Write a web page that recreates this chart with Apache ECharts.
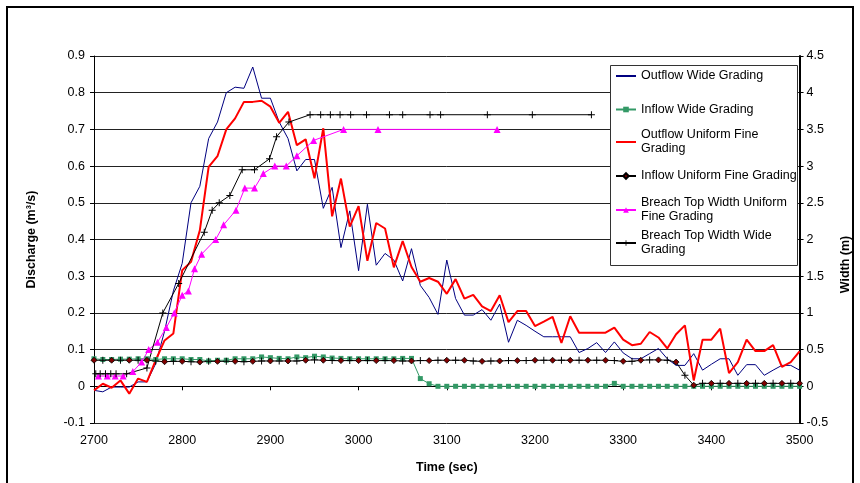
<!DOCTYPE html>
<html>
<head>
<meta charset="utf-8">
<script src="https://cdn.jsdelivr.net/npm/echarts@6/dist/echarts.min.js"></script>
<style>
  html, body { margin: 0; padding: 0; background: #fff; }
  #chart { width: 860px; height: 483px; }
</style>
</head>
<body>
<div id="chart"></div>
<script>
// time steps (sec) of the 10 s records
var times = [2700, 2710, 2720, 2730, 2740, 2750, 2760, 2770, 2780, 2790,
    2800, 2810, 2820, 2830, 2840, 2850, 2860, 2870, 2880, 2890,
    2900, 2910, 2920, 2930, 2940, 2950, 2960, 2970, 2980, 2990,
    3000, 3010, 3020, 3030, 3040, 3050, 3060, 3070, 3080, 3090,
    3100, 3110, 3120, 3130, 3140, 3150, 3160, 3170, 3180, 3190,
    3200, 3210, 3220, 3230, 3240, 3250, 3260, 3270, 3280, 3290,
    3300, 3310, 3320, 3330, 3340, 3350, 3360, 3370, 3380, 3390,
    3400, 3410, 3420, 3430, 3440, 3450, 3460, 3470, 3480, 3490, 3500];

// discharge (m3/s)
var outflowWide = [-0.011, -0.015, -0.002, -0.002, -0.002, 0.012, 0.012, 0.062, 0.15, 0.26,
    0.335, 0.50, 0.545, 0.675, 0.72, 0.80, 0.815, 0.812, 0.87, 0.785,
    0.785, 0.72, 0.675, 0.587, 0.618, 0.618, 0.485, 0.542, 0.378, 0.478,
    0.315, 0.496, 0.33, 0.362, 0.344, 0.287, 0.375, 0.275, 0.242, 0.196,
    0.344, 0.239, 0.194, 0.194, 0.209, 0.18, 0.224, 0.12, 0.18, 0.166,
    0.15, 0.135, 0.135, 0.135, 0.135, 0.092, 0.103, 0.119, 0.092, 0.121,
    0.091, 0.075, 0.075, 0.089, 0.103, 0.075, 0.057, 0.057, 0.089, 0.044,
    0.06, 0.075, 0.075, 0.03, 0.059, 0.059, 0.03, 0.044, 0.057, 0.057, 0.044];

var inflowWide = [0.075, 0.073, 0.073, 0.074, 0.074, 0.075, 0.075, 0.073, 0.075, 0.075,
    0.075, 0.073, 0.073, 0.069, 0.071, 0.071, 0.075, 0.075, 0.075, 0.080,
    0.078, 0.076, 0.075, 0.080, 0.078, 0.082, 0.080, 0.077, 0.076, 0.075,
    0.075, 0.075, 0.075, 0.075, 0.075, 0.076, 0.076, 0.021, 0.007, 0,
    0, 0, 0, 0, 0, 0, 0, 0, 0, 0,
    0, 0, 0, 0, 0, 0, 0, 0, 0, 0.008,
    0, 0, 0, 0, 0, 0, 0, 0, 0, 0,
    0, 0, 0, 0, 0, 0, 0, 0, 0, 0, 0];

var outflowUniform = [-0.011, 0.007, -0.004, 0.016, -0.02, 0.021, 0.012, 0.071, 0.125, 0.144,
    0.316, 0.339, 0.425, 0.598, 0.627, 0.70, 0.73, 0.775, 0.775, 0.778,
    0.762, 0.718, 0.748, 0.657, 0.673, 0.567, 0.703, 0.463, 0.566, 0.435,
    0.491, 0.342, 0.445, 0.43, 0.324, 0.396, 0.325, 0.285, 0.295, 0.285,
    0.252, 0.292, 0.239, 0.249, 0.218, 0.205, 0.248, 0.175, 0.205, 0.205,
    0.164, 0.176, 0.189, 0.118, 0.191, 0.146, 0.146, 0.146, 0.146, 0.16,
    0.127, 0.112, 0.116, 0.148, 0.133, 0.103, 0.142, 0.166, 0.016, 0.127,
    0.127, 0.157, 0.036, 0.066, 0.127, 0.096, 0.096, 0.112, 0.053, 0.066, 0.095];

var inflowUniform = [0.071, 0.071, 0.071, 0.071, 0.071, 0.071, 0.071, 0.069, 0.067, 0.068,
    0.068, 0.067, 0.066, 0.068, 0.068, 0.068, 0.068, 0.067, 0.068, 0.069,
    0.069, 0.069, 0.069, 0.069, 0.071, 0.072, 0.071, 0.070, 0.070, 0.070,
    0.070, 0.070, 0.070, 0.070, 0.070, 0.069, 0.069, 0.070, 0.070, 0.071,
    0.071, 0.071, 0.071, 0.069, 0.068, 0.069, 0.069, 0.070, 0.070, 0.070,
    0.071, 0.071, 0.071, 0.071, 0.071, 0.071, 0.071, 0.071, 0.071, 0.070,
    0.068, 0.068, 0.071, 0.072, 0.072, 0.071, 0.066, 0.030, 0.003, 0.008,
    0.008, 0.008, 0.008, 0.008, 0.008, 0.008, 0.008, 0.008, 0.008, 0.008, 0.008];

// breach top width (m), irregular times
var uniformWidthTimes = [2705, 2715, 2724, 2733, 2744, 2754, 2762, 2772, 2782, 2791,
    2800, 2807, 2814, 2822, 2838, 2847, 2861, 2871, 2882, 2892,
    2905, 2918, 2930, 2949, 2983, 3022, 3157];
var uniformWidth = [0.14, 0.14, 0.14, 0.14, 0.2, 0.33, 0.5, 0.6, 0.8, 1.0,
    1.24, 1.3, 1.6, 1.8, 2.0, 2.2, 2.4, 2.7, 2.7, 2.9,
    3.0, 3.0, 3.14, 3.35, 3.5, 3.5, 3.5];

var wideWidthTimes = [2702, 2707, 2713, 2719, 2725, 2737, 2760, 2778, 2796, 2825,
    2834, 2842, 2854, 2868, 2882, 2899, 2907, 2921, 2945, 2957,
    2968, 2979, 2991, 3009, 3035, 3050, 3081, 3093, 3146, 3197, 3264];
var wideWidth = [0.17, 0.17, 0.17, 0.17, 0.17, 0.17, 0.25, 1.0, 1.4, 2.1,
    2.4, 2.5, 2.6, 2.95, 2.95, 3.1, 3.4, 3.6, 3.7, 3.7,
    3.7, 3.7, 3.7, 3.7, 3.7, 3.7, 3.7, 3.7, 3.7, 3.7, 3.7];

var seriesNames = ['Outflow Wide Grading', 'Inflow Wide Grading', 'Outflow Uniform Fine\nGrading',
    'Inflow Uniform Fine Grading', 'Breach Top Width Uniform\nFine Grading', 'Breach Top Width Wide\nGrading'];

(function() {
    var FONT = 'Liberation Sans, Arial, sans-serif';
    var PLUS = 'path://M4.3,0H5.7V4.3H10V5.7H5.7V10H4.3V5.7H0V4.3H4.3Z';

    function pairs(xs, ys) {
        return ys.map(function(v, i) { return [xs[i], v]; });
    }

    // diamonds and plain ticks alternate along the uniform inflow line
    var inflowUniformData = inflowUniform.map(function(v, i) {
        if (i % 2) {
            return {value: [times[i], v], symbol: PLUS, symbolSize: 7, itemStyle: {color: '#000', borderWidth: 0}};
        }
        return [times[i], v];
    });

    // legend icons sit on the first text line
    var legendCenters = [76, 109.5, 142, 176, 210, 243];
    var lineOnly = [true, false, true, false, false, false];
    var legends = seriesNames.map(function(name, i) {
        var twoLines = name.indexOf('\n') > -1;
        var lg = {
            data: [name],
            left: 615,
            top: legendCenters[i] - (twoLines ? 21 : 7),
            itemWidth: 20,
            itemHeight: 7,
            itemGap: 0,
            padding: 0,
            selectedMode: false,
            textStyle: {
                fontFamily: FONT, fontSize: 12.5, color: '#000', lineHeight: 14,
                padding: twoLines ? [14, 0, 0, 0] : 0
            }
        };
        if (lineOnly[i]) {
            lg.itemStyle = {opacity: 0};
        }
        return lg;
    });

    var chart = echarts.init(document.getElementById('chart'), null, {renderer: 'canvas'});

    var option = {
        animation: false,
        backgroundColor: '#fff',
        textStyle: {fontFamily: FONT},
        grid: {left: 94, right: 59, top: 56, bottom: 60, containLabel: false},
        legend: legends,
        graphic: [
            {type: 'rect', z: 0, silent: true,
                shape: {x: 7, y: 7, width: 846, height: 480},
                style: {fill: null, stroke: '#000', lineWidth: 2}},
            {type: 'rect', z: 3, zlevel: 0, silent: true,
                shape: {x: 610.5, y: 65.5, width: 187, height: 200},
                style: {fill: '#fff', stroke: '#333', lineWidth: 1}}
        ],
        xAxis: {
            type: 'value',
            min: 2700, max: 3500, interval: 100,
            name: 'Time (sec)',
            nameLocation: 'middle',
            nameGap: 38,
            nameTextStyle: {fontFamily: FONT, fontSize: 12.5, fontWeight: 'bold', color: '#000'},
            axisLine: {lineStyle: {color: '#000', width: 1}},
            axisTick: {length: 4, lineStyle: {color: '#000'}},
            axisLabel: {fontFamily: FONT, fontSize: 12.5, color: '#000', margin: 11,
                formatter: function(v) { return String(v); }},
            splitLine: {show: false}
        },
        yAxis: [
            {
                type: 'value',
                min: -0.1, max: 0.9, interval: 0.1,
                name: 'Discharge (m³/s)',
                nameLocation: 'middle',
                nameRotate: 90,
                nameGap: 56,
                nameTextStyle: {fontFamily: FONT, fontSize: 12.5, fontWeight: 'bold', color: '#000'},
                axisLine: {show: true, lineStyle: {color: '#000', width: 1}},
                axisTick: {show: true, length: 4, lineStyle: {color: '#000'}},
                axisLabel: {fontFamily: FONT, fontSize: 12.5, color: '#000', margin: 9},
                splitLine: {show: true, lineStyle: {color: '#222', width: 1}}
            },
            {
                type: 'value',
                position: 'right',
                min: -0.5, max: 4.5, interval: 0.5,
                name: 'Width (m)',
                nameLocation: 'middle',
                nameRotate: 90,
                nameGap: 34,
                nameTextStyle: {fontFamily: FONT, fontSize: 12.5, fontWeight: 'bold', color: '#000',
                    padding: [0, 50, 0, 0]},
                axisLine: {show: true, lineStyle: {color: '#000', width: 2}},
                axisTick: {show: true, length: 4, lineStyle: {color: '#000'}},
                axisLabel: {fontFamily: FONT, fontSize: 12.5, color: '#000', margin: 7},
                splitLine: {show: false}
            }
        ],
        series: [
            {
                name: seriesNames[0], type: 'line',
                data: pairs(times, outflowWide),
                symbol: 'none',
                lineStyle: {color: '#000080', width: 1},
                itemStyle: {color: '#000080'}
            },
            {
                name: seriesNames[1], type: 'line',
                data: pairs(times, inflowWide),
                symbol: 'rect', symbolSize: 5,
                lineStyle: {color: '#339966', width: 1},
                itemStyle: {color: '#339966'}
            },
            {
                name: seriesNames[2], type: 'line',
                data: pairs(times, outflowUniform),
                symbol: 'none',
                lineStyle: {color: '#ff0000', width: 2},
                itemStyle: {color: '#ff0000'}
            },
            {
                name: seriesNames[3], type: 'line',
                data: inflowUniformData,
                symbol: 'diamond', symbolSize: 6,
                lineStyle: {color: '#000', width: 1},
                itemStyle: {color: '#800000', borderColor: '#000', borderWidth: 0.8}
            },
            {
                name: seriesNames[4], type: 'line',
                yAxisIndex: 1,
                data: pairs(uniformWidthTimes, uniformWidth),
                symbol: 'triangle', symbolSize: 7,
                lineStyle: {color: '#ff00ff', width: 1},
                itemStyle: {color: '#ff00ff'}
            },
            {
                name: seriesNames[5], type: 'line',
                yAxisIndex: 1,
                data: pairs(wideWidthTimes, wideWidth),
                symbol: PLUS, symbolSize: 7,
                lineStyle: {color: '#000', width: 1},
                itemStyle: {color: '#000'}
            }
        ]
    };

    chart.setOption(option);
})();
</script>
</body>
</html>
